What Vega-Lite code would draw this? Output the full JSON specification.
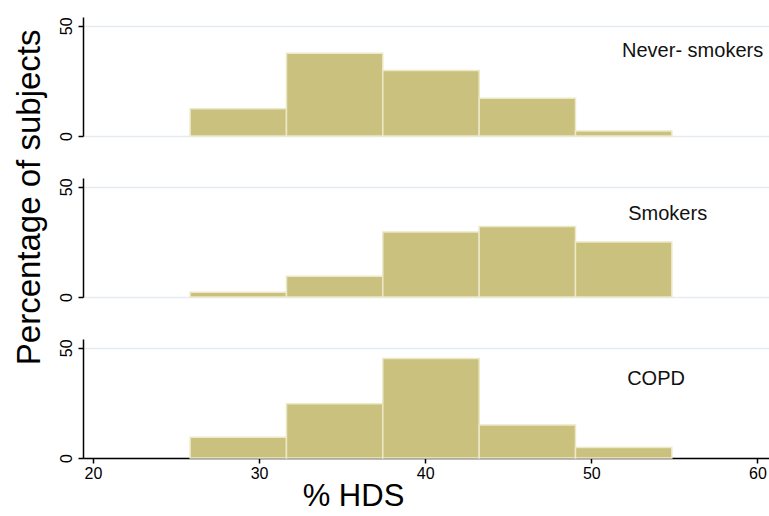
{
  "$schema": "https://vega.github.io/schema/vega-lite/v6.json",
  "padding": {"left": 12, "top": 16, "right": 0, "bottom": 0},
  "spacing": 42,
  "bounds": "flush",
  "config": {
    "view": {"stroke": null},
    "font": "Liberation Sans",
    "axis": {"domainColor": "#000", "tickColor": "#000", "labelColor": "#000", "titleColor": "#000", "labelFont": "Liberation Sans", "titleFont": "Liberation Sans", "gridColor": "#e4ecf1", "gridWidth": 1.5, "titleFontWeight": "normal"}
  },
  "datasets": {
    "hist": [
      {"group": "Never- smokers", "bin_start": 25.85, "bin_end": 31.65, "pct": 12.4},
      {"group": "Never- smokers", "bin_start": 31.65, "bin_end": 37.45, "pct": 37.6},
      {"group": "Never- smokers", "bin_start": 37.45, "bin_end": 43.25, "pct": 29.7},
      {"group": "Never- smokers", "bin_start": 43.25, "bin_end": 49.05, "pct": 17.1},
      {"group": "Never- smokers", "bin_start": 49.05, "bin_end": 54.85, "pct": 2.3},
      {"group": "Smokers", "bin_start": 25.85, "bin_end": 31.65, "pct": 2.2},
      {"group": "Smokers", "bin_start": 31.65, "bin_end": 37.45, "pct": 9.4},
      {"group": "Smokers", "bin_start": 37.45, "bin_end": 43.25, "pct": 29.5},
      {"group": "Smokers", "bin_start": 43.25, "bin_end": 49.05, "pct": 32.0},
      {"group": "Smokers", "bin_start": 49.05, "bin_end": 54.85, "pct": 25.0},
      {"group": "COPD", "bin_start": 25.85, "bin_end": 31.65, "pct": 9.4},
      {"group": "COPD", "bin_start": 31.65, "bin_end": 37.45, "pct": 24.6},
      {"group": "COPD", "bin_start": 37.45, "bin_end": 43.25, "pct": 45.2},
      {"group": "COPD", "bin_start": 43.25, "bin_end": 49.05, "pct": 15.0},
      {"group": "COPD", "bin_start": 49.05, "bin_end": 54.85, "pct": 4.8}
    ]
  },
  "vconcat": [
    {
      "width": 686, "height": 119,
      "layer": [
        {
          "data": {"name": "hist"},
          "transform": [{"filter": "datum.group === 'Never- smokers'"}],
          "mark": {"type": "bar", "color": "#c9c17d", "stroke": "#ece8c8", "strokeWidth": 1.5},
          "encoding": {
            "x": {"field": "bin_start", "type": "quantitative", "scale": {"domain": [19.4, 60.7], "nice": false, "zero": false}, "axis": null},
            "x2": {"field": "bin_end"},
            "y": {"field": "pct", "type": "quantitative", "scale": {"domain": [0, 54], "nice": false},
              "axis": {"values": [0, 50], "labelAngle": -90, "labelAlign": "center", "labelBaseline": "bottom", "labelFontSize": 16, "labelPadding": 4, "tickSize": 5, "title": "Percentage of subjects", "titleFontSize": 33, "titleAnchor": "end", "titleY": 12, "titlePadding": 12, "domainWidth": 1.5, "tickWidth": 1.5}},
            "y2": {"datum": 0}
          }
        },
        {
          "data": {"values": [{"label": "Never- smokers"}]},
          "mark": {"type": "text", "fontSize": 20, "color": "#111"},
          "encoding": {"text": {"field": "label"}, "x": {"datum": 56.1}, "y": {"datum": 38.5}}
        }
      ]
    },
    {
      "width": 686, "height": 119,
      "layer": [
        {
          "data": {"name": "hist"},
          "transform": [{"filter": "datum.group === 'Smokers'"}],
          "mark": {"type": "bar", "color": "#c9c17d", "stroke": "#ece8c8", "strokeWidth": 1.5},
          "encoding": {
            "x": {"field": "bin_start", "type": "quantitative", "scale": {"domain": [19.4, 60.7], "nice": false, "zero": false}, "axis": null},
            "x2": {"field": "bin_end"},
            "y": {"field": "pct", "type": "quantitative", "scale": {"domain": [0, 54], "nice": false},
              "axis": {"values": [0, 50], "labelAngle": -90, "labelAlign": "center", "labelBaseline": "bottom", "labelFontSize": 16, "labelPadding": 4, "tickSize": 5, "title": null, "domainWidth": 1.5, "tickWidth": 1.5}},
            "y2": {"datum": 0}
          }
        },
        {
          "data": {"values": [{"label": "Smokers"}]},
          "mark": {"type": "text", "fontSize": 20, "color": "#111"},
          "encoding": {"text": {"field": "label"}, "x": {"datum": 54.6}, "y": {"datum": 37.7}}
        }
      ]
    },
    {
      "width": 686, "height": 119,
      "layer": [
        {
          "data": {"name": "hist"},
          "transform": [{"filter": "datum.group === 'COPD'"}],
          "mark": {"type": "bar", "color": "#c9c17d", "stroke": "#ece8c8", "strokeWidth": 1.5},
          "encoding": {
            "x": {"field": "bin_start", "type": "quantitative", "scale": {"domain": [19.4, 60.7], "nice": false, "zero": false},
              "axis": {"values": [20, 30, 40, 50, 60], "grid": false, "labelFontSize": 16, "tickSize": 5, "labelPadding": 2, "title": "% HDS", "titleFontSize": 31, "titleAnchor": "start", "titleAlign": "center", "titleX": 270, "titlePadding": 0, "domainWidth": 1.5, "tickWidth": 1.5}},
            "x2": {"field": "bin_end"},
            "y": {"field": "pct", "type": "quantitative", "scale": {"domain": [0, 54], "nice": false},
              "axis": {"values": [0, 50], "labelAngle": -90, "labelAlign": "center", "labelBaseline": "bottom", "labelFontSize": 16, "labelPadding": 4, "tickSize": 5, "title": null, "domainWidth": 1.5, "tickWidth": 1.5}},
            "y2": {"datum": 0}
          }
        },
        {
          "data": {"values": [{"label": "COPD"}]},
          "mark": {"type": "text", "fontSize": 20, "color": "#111"},
          "encoding": {"text": {"field": "label"}, "x": {"datum": 53.9}, "y": {"datum": 35.9}}
        }
      ]
    }
  ]
}
